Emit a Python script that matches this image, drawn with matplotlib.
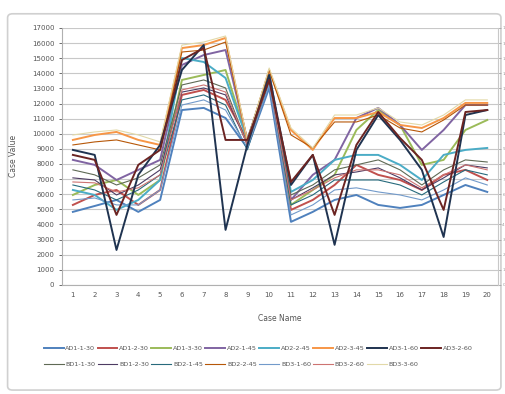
import matplotlib
matplotlib.use('Agg')
import matplotlib.pyplot as plt
from matplotlib.patches import FancyBboxPatch
import numpy as np

cases = [str(i) for i in range(1, 21)]

labels = ['AD1-1-30', 'AD1-2-30', 'AD1-3-30', 'AD2-1-45', 'AD2-2-45', 'AD2-3-45', 'AD3-1-60', 'AD3-2-60',
          'BD1-1-30', 'BD1-2-30', 'BD2-1-45', 'BD2-2-45', 'BD3-1-60', 'BD3-2-60', 'BD3-3-60']

s01 = [4830, 5220, 5620, 4830, 5620, 11570, 11710, 11040, 9060, 13030, 4170, 4830, 5620, 5950, 5290, 5090, 5290, 5950, 6610, 6150]
s02 = [5290, 5950, 6280, 5290, 6280, 12570, 12900, 12240, 9590, 13560, 4960, 5620, 6610, 7940, 7280, 6940, 6280, 7280, 7610, 6940]
s03 = [5950, 6610, 6940, 5950, 6940, 13560, 13890, 14220, 9590, 13890, 5290, 6280, 7280, 10250, 11570, 10580, 7940, 8270, 10250, 10910]
s04 = [8270, 7940, 6940, 7610, 8270, 14550, 15210, 15540, 9590, 14090, 5620, 7280, 8270, 11040, 11710, 10580, 8930, 10250, 11900, 11900]
s05 = [6280, 5950, 4960, 5620, 6940, 15010, 14750, 13690, 9590, 13890, 6150, 6940, 8270, 8600, 8600, 7940, 6940, 8600, 8930, 9060]
s06 = [9590, 9920, 10120, 9590, 9260, 15670, 15870, 16340, 9460, 14220, 10250, 8930, 11040, 11040, 11440, 10580, 10380, 11040, 12040, 12040]
s07 = [8930, 8600, 2310, 7280, 9260, 14220, 15870, 3640, 9260, 13890, 6610, 8600, 2650, 8930, 11240, 9590, 7610, 3170, 11240, 11570]
s08 = [8600, 8270, 4630, 7940, 8930, 14880, 15670, 9590, 9590, 13560, 6810, 8600, 4630, 9260, 11440, 9720, 8270, 4960, 11440, 11570]
s09 = [7610, 7280, 6610, 7080, 7940, 13230, 13560, 13030, 9260, 13690, 5950, 6610, 7610, 7940, 8270, 7610, 6610, 7610, 8270, 8130]
s10 = [7080, 6940, 5950, 6610, 7610, 12760, 13030, 12570, 9260, 13560, 5620, 6420, 7280, 7470, 7740, 7080, 6280, 7080, 7940, 7740]
s11 = [6610, 6280, 5620, 6280, 7280, 12240, 12570, 11900, 8930, 13430, 5290, 5950, 6940, 6940, 6940, 6610, 5950, 6810, 7610, 7280]
s12 = [9260, 9460, 9590, 9260, 8930, 15410, 15540, 16070, 9590, 14220, 9920, 9060, 10780, 10780, 11240, 10380, 10120, 10910, 11900, 11900]
s13 = [5620, 5750, 5290, 5290, 6280, 11900, 12240, 11570, 9060, 13230, 4630, 5290, 6280, 6420, 6150, 5950, 5620, 6280, 7080, 6610]
s14 = [6810, 6750, 6150, 6420, 7280, 12900, 13230, 12760, 9260, 13560, 5620, 6280, 7080, 7610, 7610, 7280, 6420, 7280, 7940, 7610]
s15 = [9920, 10120, 10250, 9920, 9460, 15870, 16070, 16470, 9590, 14350, 10380, 9060, 11240, 11240, 11710, 10780, 10580, 11240, 12240, 12240]

series = [s01, s02, s03, s04, s05, s06, s07, s08, s09, s10, s11, s12, s13, s14, s15]
colors = ['#4F81BD', '#C0504D', '#9BBB59', '#8064A2', '#4BACC6', '#F79646', '#1F3350', '#6B2422',
          '#5F6A55', '#4D3B62', '#276A7C', '#B65708', '#729ACA', '#CD7371', '#E2D9A8']

fig = plt.figure(figsize=(5.06, 3.94), dpi=100)
# chart frame behind everything
frame = FancyBboxPatch((0.015, 0.01), 0.975, 0.955, boxstyle='round,pad=0,rounding_size=0.01',
                       transform=fig.transFigure, fc='none', ec='#D0D0D0', lw=1.2, zorder=-5)
fig.patches.append(frame)

ax = fig.add_axes([0.1225, 0.277, 0.862, 0.652])
x = np.arange(len(cases))
for i, (vals, c) in enumerate(zip(series, colors)):
    lw = 1.4 if i < 8 else 0.8
    ax.plot(x, vals, color=c, lw=lw, label=labels[i], zorder=3 if i in (6, 7) else 2)

ax.set_xlim(-0.5, len(cases) - 0.5)
ax.set_ylim(0, 17000)
ax.set_yticks(np.arange(0, 17001, 1000))
ax.set_yticklabels(['%d' % v for v in np.arange(0, 17001, 1000)])
ax.set_xticks(x)
ax.set_xticklabels(cases)
ax.grid(axis='y', color='#C8C8C8', lw=0.8)
ax.set_axisbelow(True)
for side in ('top', 'right'):
    ax.spines[side].set_visible(False)
ax.spines['left'].set_color('#B0B0B0')
ax.spines['bottom'].set_color('#B0B0B0')
ax.tick_params(axis='both', labelsize=5, colors='#555555', length=2, width=0.6)
ax.tick_params(axis='x', length=0, pad=5)

ax2 = ax.twinx()
ax2.set_ylim(0, 17)
ax2.set_yticks(np.arange(0, 18, 1))
ax2.tick_params(axis='y', labelsize=3, colors='#999999', length=2, width=0.5, pad=1)
for side in ('top', 'left', 'bottom'):
    ax2.spines[side].set_visible(False)
ax2.spines['right'].set_color('#C8C8C8')

ax.set_xlabel('Case Name', fontsize=5.5, color='#555555', labelpad=12)
ax.set_ylabel('Case Value', fontsize=5.5, color='#555555', labelpad=10)

# legend filled row by row: 8 on the first row, 7 on the second
handles, lbls = ax.get_legend_handles_labels()
order = []
for j in range(8):
    order.append(j)
    if j + 8 < len(handles):
        order.append(j + 8)
fig.legend([handles[k] for k in order], [lbls[k] for k in order], loc='upper left',
           bbox_to_anchor=(0.075, 0.137), ncol=8, fontsize=4.6, frameon=False, handlelength=3.1,
           handletextpad=0.3, columnspacing=0.35, labelspacing=1.6, labelcolor='#555555')

plt.savefig('out.png', dpi=100)
